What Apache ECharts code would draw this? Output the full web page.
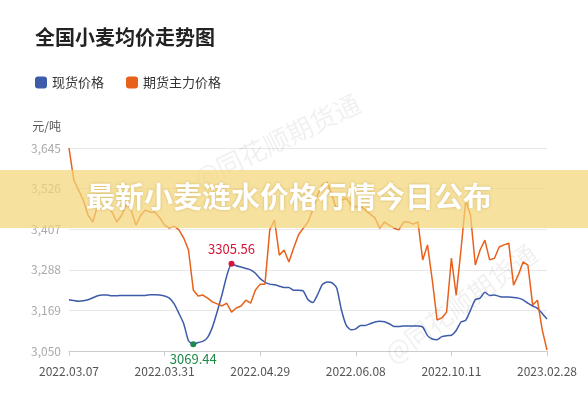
<!DOCTYPE html>
<html lang="zh">
  <head>
    <meta charset="UTF-8" />
    <title>全国小麦均价走势图</title>
    <style>
      html, body { margin: 0; padding: 0; background: #fff; }
      #main { width: 588px; height: 400px; }
    </style>
  </head>
  <body>
    <div id="main"></div>
    <script src="https://cdn.jsdelivr.net/npm/echarts@6/dist/echarts.min.js"></script>
    <script>
      // 横轴只显示这几个日期，每隔20个点一个
      var tickLabels = ['2022.03.07', '2022.03.31', '2022.04.29', '2022.06.08', '2022.10.11', '2023.02.28'];
      var yTicks = [3050, 3169, 3288, 3407, 3526, 3645];

      // 现货价格
      var spot = [
        3200, 3198, 3196, 3197, 3200, 3206, 3212, 3214, 3214, 3212,
        3212, 3213, 3213, 3213, 3213, 3213, 3213, 3215, 3215, 3214,
        3211, 3205, 3188, 3160, 3130, 3080, 3069.44, 3075, 3078, 3090,
        3120, 3165, 3215, 3270, 3305.56, 3300, 3296, 3292, 3288, 3278,
        3262, 3252, 3246, 3244, 3240, 3236, 3236, 3228, 3228, 3226,
        3200, 3192, 3215, 3245, 3252, 3250, 3235, 3170, 3125, 3112,
        3115, 3125, 3125, 3130, 3135, 3137, 3136, 3130, 3122, 3122,
        3123, 3123, 3123, 3123, 3120, 3095, 3085, 3083, 3092, 3095,
        3096, 3110, 3135, 3140, 3170, 3200, 3205, 3222, 3213, 3214,
        3210, 3208, 3208, 3207, 3205, 3200, 3190, 3182, 3175, 3160,
        3144
      ];
      // 期货主力价格
      var futures = [
        3645, 3551, 3522, 3492, 3448, 3428, 3478, 3463, 3478, 3457,
        3428, 3448, 3478, 3463, 3419, 3448, 3463, 3457, 3457, 3440,
        3419, 3410, 3416, 3405, 3381, 3346, 3229, 3211, 3214, 3205,
        3194, 3188, 3182, 3190, 3164, 3176, 3182, 3199, 3190, 3229,
        3246, 3246, 3405, 3434, 3331, 3346, 3311, 3352, 3390, 3410,
        3428, 3463, 3507, 3536, 3545, 3507, 3463, 3492, 3498, 3478,
        3472, 3475, 3463, 3451, 3440, 3410, 3428, 3419, 3410, 3405,
        3428, 3428, 3422, 3428, 3317, 3361, 3258, 3141, 3147, 3164,
        3322, 3214, 3346, 3492, 3448, 3302, 3346, 3375, 3317, 3322,
        3355, 3361, 3366, 3243, 3273, 3311, 3302, 3185, 3199, 3112,
        3053
      ];

      var dates = spot.map(function (v, i) {
        return i % 20 === 0 ? tickLabels[i / 20] : String(i);
      });

      var chart = echarts.init(document.getElementById('main'));
      var font = '"Noto Sans CJK SC", "Noto Sans", sans-serif';

      chart.setOption({
        animation: false,
        textStyle: { fontFamily: font },
        title: {
          text: '全国小麦均价走势图',
          left: 30, top: 22,
          textStyle: { fontSize: 20, fontWeight: 'bold', color: '#222', fontFamily: font }
        },
        legend: {
          left: 30, top: 71,
          itemWidth: 12, itemHeight: 12, itemGap: 22,
          icon: 'roundRect',
          textStyle: { fontSize: 13, color: '#333' },
          data: ['现货价格', '期货主力价格']
        },
        grid: { left: 69, right: 41, top: 148, bottom: 49 },
        xAxis: {
          type: 'category',
          boundaryGap: false,
          data: dates,
          axisLine: { lineStyle: { color: '#ccc' } },
          axisTick: { interval: 19, lineStyle: { color: '#ccc' } },
          axisLabel: {
            interval: 19, color: '#555', fontSize: 12, margin: 14,
            formatter: function (v) { return v.indexOf('.') > 0 ? v : ''; }
          }
        },
        yAxis: {
          type: 'value',
          name: '元/吨',
          nameGap: 16,
          nameLocation: 'end',
          nameTextStyle: { color: '#555', fontSize: 12, align: 'right', padding: [0, 8, 0, 0] },
          min: yTicks[0], max: yTicks[yTicks.length - 1], interval: 119,
          axisLabel: {
            color: '#aaa', fontSize: 12,
            formatter: function (v) { return v.toLocaleString('en-US'); }
          },
          splitLine: { lineStyle: { color: '#e8e8e8' } }
        },
        series: [
          {
            name: '现货价格', type: 'line', data: spot,
            showSymbol: false, smooth: 0.2,
            itemStyle: { color: '#3d5ba9' },
            lineStyle: { width: 1.5, color: '#3d5ba9' },
            markPoint: {
              symbol: 'circle', symbolSize: 6,
              data: [
                { type: 'max', itemStyle: { color: '#d6163a' },
                  label: { show: true, position: 'top', color: '#d6163a', fontSize: 13, formatter: '{c}' } },
                { type: 'min', itemStyle: { color: '#1d8a48' },
                  label: { show: true, position: 'bottom', color: '#1d8a48', fontSize: 13, formatter: '{c}' } }
              ]
            }
          },
          {
            name: '期货主力价格', type: 'line', data: futures,
            showSymbol: false,
            itemStyle: { color: '#e8611c' },
            lineStyle: { width: 1.5, color: '#e8611c' }
          }
        ],
        graphic: [
          {
            type: 'text', left: 190, top: 90, rotation: Math.PI / 7, z: 1,
            style: { text: '@同花顺期货通', fontSize: 26, fill: 'rgba(0,0,0,0.06)', fontFamily: font }
          },
          {
            type: 'text', left: 380, top: 240, rotation: Math.PI / 5, z: 1,
            style: { text: '@同花顺期货通', fontSize: 26, fill: 'rgba(0,0,0,0.06)', fontFamily: font }
          },
          {
            type: 'rect', left: 0, top: 170, z: 100,
            shape: { width: 588, height: 58 },
            style: { fill: 'rgba(242,214,120,0.72)' }
          },
          {
            type: 'text', left: 86, top: 182, z: 101,
            style: {
              text: '最新小麦涟水价格行情今日公布',
              fontSize: 29, fontWeight: 'bold', fill: '#fff', fontFamily: font,
              textShadowColor: 'rgba(150,110,0,0.35)', textShadowBlur: 3
            }
          }
        ]
      });
    </script>
  </body>
</html>
